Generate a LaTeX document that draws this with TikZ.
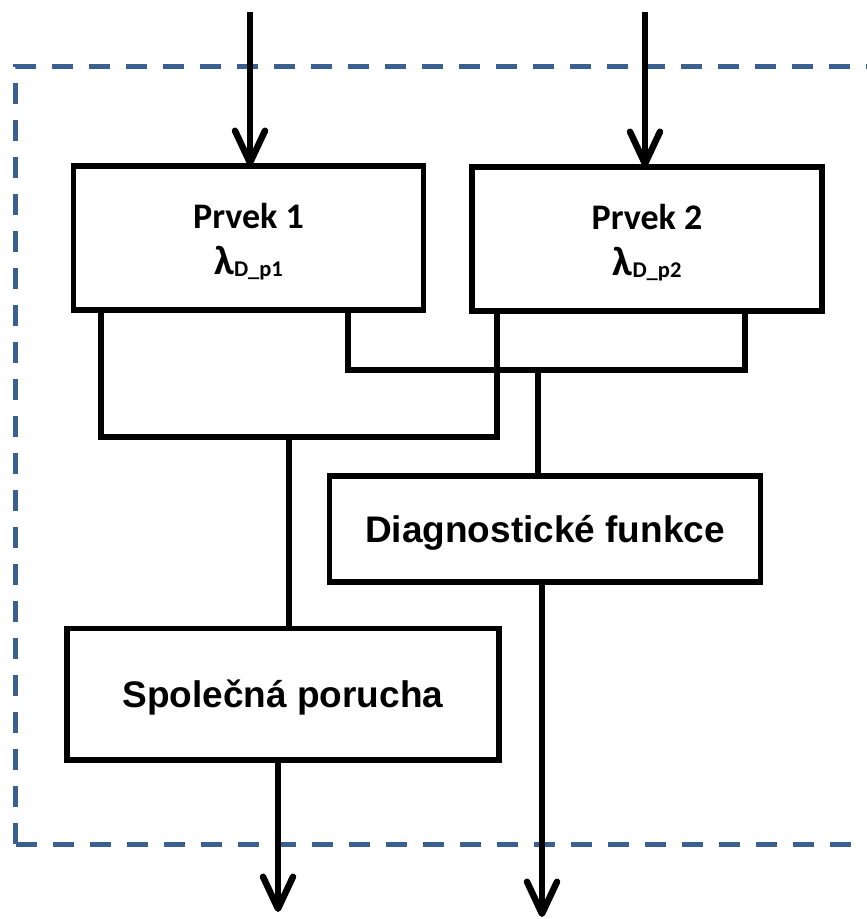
\documentclass[tikz,border=0pt]{standalone}
\usepackage{fontspec}
\setmainfont{Liberation Sans}
\newfontfamily\calib{Carlito}
\usetikzlibrary{arrows.meta,calc}
\definecolor{frameblue}{RGB}{58,96,146}
\newcommand{\ratesym}[1]{{\fontsize{41}{46}\selectfont λ}\raisebox{-0.15ex}{\fontsize{22.5}{22.5}\selectfont #1}}
\begin{document}
\begin{tikzpicture}[x=1pt,y=-1pt,
  box/.style={draw, line width=5.5pt, outer sep=0pt, inner sep=0pt, fill=white},
  elembox/.style={box, minimum width=350pt, minimum height=144pt,
    align=center, font=\calib\bfseries\fontsize{36}{46}\selectfont,
    text height=72pt, text depth=0pt},
  funcbox/.style={box, font=\bfseries\fontsize{37}{40}\selectfont,
    text height=26pt, text depth=0pt},
  wire/.style={line width=6pt, line cap=rect},
  flow/.style={line width=6.5pt, -{Straight Barb[length=32pt,width=30pt,line width=6.5pt,round]}},
  frame/.style={draw=frameblue, line width=5pt, dash pattern=on 21.5pt off 15.5pt}
]
\useasboundingbox (0,0) rectangle (867,919);

% system boundary
\draw[frame] (15.5,844) -- (15.5,66) -- (870,66);
\draw[frame] (15.5,844) -- (870,844);

% elements
\node[elembox] (p1) at (248.5,238) {Prvek 1\\\ratesym{D\_p1}};
\node[elembox] (p2) at (647,239) {Prvek 2\\\ratesym{D\_p2}};
\node[funcbox, minimum width=431pt, minimum height=106pt] (diag) at (545,529) {Diagnostické funkce};
\node[funcbox, minimum width=432pt, minimum height=131.5pt] (spol) at (283,694) {Společná porucha};

% bus taps
\coordinate (lb) at (289,437);
\coordinate (ub) at (538,370);

% element outputs joined on two buses
\draw[wire] ([xshift=27pt]p1.south west) |- (lb) -| ([xshift=25pt]p2.south west);
\draw[wire] ([xshift=-76pt]p1.south east) |- (ub) -| ([xshift=-77pt]p2.south east);
\draw[wire] (lb) -- (lb |- spol.north);
\draw[wire] (ub) -- (ub |- diag.north);

% inputs and outputs
\coordinate (in1) at (250,12);
\coordinate (in2) at (645,12);
\coordinate (out1) at (278,912);
\coordinate (out2) at (542,917);
\draw[flow] (in1) -- (in1 |- p1.north);
\draw[flow] (in2) -- (in2 |- p2.north);
\draw[flow] (out1 |- spol.south) -- (out1);
\draw[flow] (out2 |- diag.south) -- (out2);
\end{tikzpicture}
\end{document}
